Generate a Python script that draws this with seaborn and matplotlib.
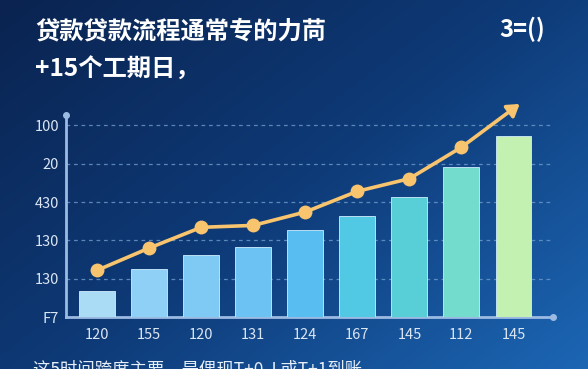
import numpy as np
import pandas as pd
import matplotlib.pyplot as plt
import seaborn as sns
from matplotlib.colors import LinearSegmentedColormap

sns.set_style('white')
plt.rcParams['font.family'] = ['Noto Sans CJK SC', 'DejaVu Sans']

# data (y in grid units)
x_labels = ['120', '155', '120', '131', '124', '167', '145', '112', '145']
y_labels = ['F7', '130', '130', '430', '20', '100']
bar_values = [0.69, 1.24, 1.61, 1.82, 2.27, 2.64, 3.12, 3.91, 4.72]
line_values = [1.22, 1.80, 2.34, 2.39, 2.74, 3.28, 3.61, 4.43]
arrow_end = (8.12, 5.56)
bar_colors = ['#aadcf6', '#8fd1f6', '#7ecaf4', '#6cc3f3', '#58bdf0',
              '#52c9e4', '#58cfd6', '#74dccd', '#c2f1b2']

title_1 = '贷款贷款流程通常专的力苘'
title_2 = '+15个工期日，'
corner = '3=()'
footnote = '这5时间跨度主要，是偶现T+0 J 或T+1到账'

df = pd.DataFrame({'pos': range(len(bar_values)), 'value': bar_values})

fig = plt.figure(figsize=(5.88, 3.69), dpi=100)

# background gradient
bg = fig.add_axes([0, 0, 1, 1], zorder=-10)
xx, yy = np.meshgrid(np.linspace(0, 1, 300), np.linspace(0, 1, 200))
grad = 0.55 * xx + 0.45 * yy
cmap = LinearSegmentedColormap.from_list('bg', ['#0a2350', '#0e3a77', '#1c66b4'])
bg.imshow(grad, cmap=cmap, aspect='auto', extent=[0, 1, 0, 1], origin='upper')
bg.axis('off')

ax = fig.add_axes([0.1122, 0.1409, 0.8283, 0.5474])
ax.set_facecolor('none')

sns.barplot(data=df, x='pos', y='value', hue='pos', palette=bar_colors,
            legend=False, width=0.69, saturation=1, ax=ax, zorder=3,
            edgecolor='#cfeeff', linewidth=0.6)

line_pos = list(range(len(line_values)))
sns.lineplot(x=line_pos, y=line_values, color='#f8c46e', linewidth=2.6,
             marker='o', markersize=10, markeredgewidth=0, ax=ax, zorder=4)
ax.annotate('', xy=arrow_end, xytext=(line_pos[-1], line_values[-1]),
            annotation_clip=False, zorder=5,
            arrowprops=dict(arrowstyle='-|>,head_length=0.7,head_width=0.45',
                            color='#f8c46e', lw=2.6, shrinkA=0, shrinkB=0))

ax.set_xlim(-0.6, 8.76)
ax.set_ylim(0, 5.27)
ax.set_yticks(range(len(y_labels)))
ax.set_yticklabels(y_labels)
ax.set_xticks(range(len(x_labels)))
ax.set_xticklabels(x_labels)
ax.set_xlabel('')
ax.set_ylabel('')
ax.tick_params(colors='#dbe6f3', labelsize=10.5, length=0)
ax.tick_params(axis='y', pad=5)
ax.tick_params(axis='x', pad=8)

for y in range(1, len(y_labels)):
    ax.axhline(y, color='#6f9ccc', lw=0.9, ls=(0, (3, 3)), alpha=0.8, zorder=1)

for side in ['top', 'right']:
    ax.spines[side].set_visible(False)
for side in ['left', 'bottom']:
    ax.spines[side].set_color('#9cbbe3')
    ax.spines[side].set_linewidth(2)
ax.plot([0], [1], 'o', ms=4, color='#9cbbe3', transform=ax.transAxes, clip_on=False)
ax.plot([1], [0], 'o', ms=4, color='#9cbbe3', transform=ax.transAxes, clip_on=False)

fig.text(0.06, 0.915, title_1, color='white', fontsize=17.5, fontweight='bold', va='center')
fig.text(0.06, 0.81, title_2, color='white', fontsize=17.5, fontweight='bold', va='center')
fig.text(0.85, 0.92, corner, color='white', fontsize=17, fontweight='bold', va='center')
fig.text(0.056, 0.0, footnote, color='#e6eef8', fontsize=12.5, va='center')

fig.savefig('out.png', dpi=100)
plt.close()
